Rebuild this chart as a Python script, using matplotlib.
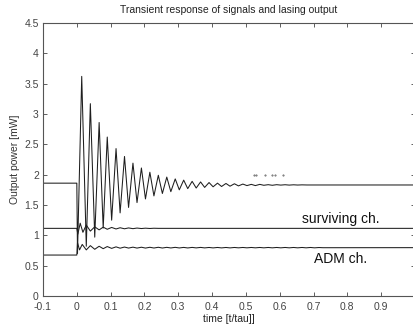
import matplotlib
matplotlib.use("Agg")
import matplotlib.pyplot as plt

plt.rcParams['font.family'] = ['Liberation Sans', 'DejaVu Sans']

# ---- data ----
title = "Transient response of signals and lasing output"
xlabel = "time [t/tau]]"
ylabel = "Output power [mW]"

xticks = [-0.1, 0, 0.1, 0.2, 0.3, 0.4, 0.5, 0.6, 0.7, 0.8, 0.9]
xtick_labels = ["-0.1", "0", "0.1", "0.2", "0.3", "0.4", "0.5", "0.6", "0.7", "0.8", "0.9"]
yticks = [0, 0.5, 1, 1.5, 2, 2.5, 3, 3.5, 4, 4.5]
ytick_labels = ["0", "0.5", "1", "1.5", "2", "2.5", "3", "3.5", "4", "4.5"]

lasing_t = [-0.1, 0.0, 0.002, 0.0145, 0.028, 0.040, 0.053, 0.066, 0.078, 0.090,
            0.103, 0.116, 0.128, 0.141, 0.153, 0.166, 0.178, 0.191, 0.203, 0.216,
            0.228, 0.241, 0.253, 0.266, 0.278, 0.291, 0.303, 0.316, 0.328, 0.341,
            0.353, 0.366, 0.378, 0.391, 0.403, 0.416, 0.428, 0.441, 0.453, 0.466,
            0.478, 0.491, 0.503, 0.516, 0.528, 0.541, 0.553, 0.566, 0.578, 0.591,
            0.603, 0.616, 0.628, 0.641, 0.653, 0.666, 0.680, 1.0]
lasing_v = [1.86, 1.86, 0.70, 3.62, 0.82, 3.17, 0.97, 2.86, 1.12, 2.62,
            1.25, 2.43, 1.37, 2.30, 1.46, 2.19, 1.54, 2.11, 1.60, 2.04,
            1.65, 1.99, 1.69, 1.96, 1.72, 1.93, 1.75, 1.91, 1.77, 1.89,
            1.78, 1.88, 1.79, 1.87, 1.80, 1.86, 1.805, 1.855, 1.81, 1.85,
            1.815, 1.845, 1.82, 1.84, 1.82, 1.84, 1.825, 1.835, 1.825, 1.835,
            1.828, 1.834, 1.828, 1.833, 1.829, 1.832, 1.83, 1.83]

surv_t = [-0.1, 0.0, 0.003, 0.010, 0.018, 0.028, 0.040, 0.053, 0.066, 0.078,
          0.090, 0.103, 0.116, 0.128, 0.141, 0.153, 0.166, 0.178, 0.191, 0.203,
          0.216, 0.228, 0.241, 1.0]
surv_v = [1.115, 1.115, 1.02, 1.20, 1.05, 1.17, 1.07, 1.14, 1.09, 1.135,
          1.10, 1.13, 1.105, 1.125, 1.108, 1.122, 1.11, 1.12, 1.112, 1.118,
          1.113, 1.117, 1.115, 1.115]

adm_t = [-0.1, 0.0, 0.002, 0.008, 0.016, 0.028, 0.040, 0.053, 0.066, 0.078,
         0.090, 0.103, 0.116, 0.128, 0.141, 0.153, 0.166, 0.178, 0.191, 0.203,
         0.216, 0.228, 0.241, 0.253, 0.266, 0.278, 0.291, 0.303, 0.316, 0.328,
         0.341, 0.353, 0.366, 0.378, 0.391, 0.403, 0.416, 0.428, 0.441, 0.453,
         0.466, 0.478, 0.491, 0.503, 0.516, 0.528, 0.541, 0.553, 0.566, 0.578,
         0.591, 0.603, 0.616, 0.628, 0.641, 0.653, 0.666, 0.678, 0.691, 0.703,
         0.716, 0.728, 1.0]
adm_v = [0.675, 0.675, 0.88, 0.76, 0.85, 0.76, 0.83, 0.77, 0.82, 0.78,
         0.815, 0.785, 0.81, 0.788, 0.807, 0.79, 0.805, 0.79, 0.804, 0.79,
         0.803, 0.791, 0.803, 0.791, 0.802, 0.792, 0.802, 0.792, 0.801, 0.792,
         0.801, 0.793, 0.801, 0.793, 0.800, 0.793, 0.800, 0.793, 0.800, 0.793,
         0.800, 0.794, 0.800, 0.794, 0.800, 0.794, 0.800, 0.794, 0.800, 0.794,
         0.800, 0.794, 0.800, 0.794, 0.800, 0.794, 0.800, 0.794, 0.800, 0.794,
         0.799, 0.796, 0.797]

marks_t = [0.523, 0.530, 0.557, 0.578, 0.586, 0.610]
marks_v = [1.99, 1.99, 1.99, 1.99, 1.99, 1.99]

labels_text = ["surviving ch.", "ADM ch."]
labels_t = [0.665, 0.70]
labels_v = [1.27, 0.61]

# ---- figure ----
fig = plt.figure(figsize=(4.14, 3.29), dpi=100)
ax = fig.add_axes([43 / 414, 33 / 329, 372 / 414, 273 / 329])

lc = '#1e1e1e'
ax.plot(lasing_t, lasing_v, color=lc, lw=0.75)
ax.plot(surv_t, surv_v, color=lc, lw=0.75)
ax.plot(adm_t, adm_v, color=lc, lw=0.75)
ax.plot(marks_t, marks_v, linestyle='none', marker='.', markersize=0.9, color='#555555')

for s, tx, ty in zip(labels_text, labels_t, labels_v):
    ax.text(tx, ty, s, fontsize=10, va='center', ha='left', color='#111111')

ax.set_xlim(-0.1, 1.0)
ax.set_ylim(0, 4.5)
ax.set_xticks(xticks)
ax.set_xticklabels(xtick_labels)
ax.set_yticks(yticks)
ax.set_yticklabels(ytick_labels)
ax.tick_params(direction='in', length=3, width=0.6, labelsize=7.5, colors='#444444',
               top=True, right=True, pad=3)
ax.tick_params(axis='x', pad=4.5)
for sp in ax.spines.values():
    sp.set_color('#555555')
    sp.set_linewidth(0.8)

ax.set_title(title, fontsize=7.5, color='#222222', pad=7)
ax.set_xlabel(xlabel, fontsize=7.5, color='#222222', labelpad=1)
ax.set_ylabel(ylabel, fontsize=7.5, color='#333333', labelpad=3)

fig.savefig("out.png", dpi=100)
